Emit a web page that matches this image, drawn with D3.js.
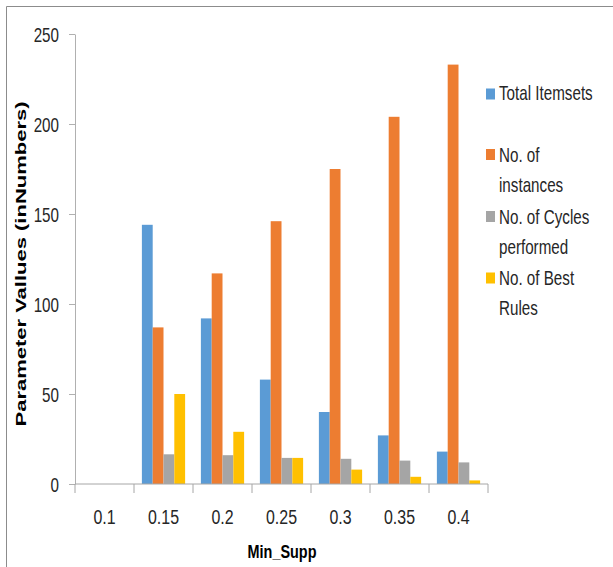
<!DOCTYPE html>
<html>
<head>
<meta charset="utf-8">
<script src="https://cdn.jsdelivr.net/npm/d3@7"></script>
<style>
  html, body { margin: 0; padding: 0; background: #fff; }
  svg { display: block; }
  .lbl { font-family: "Liberation Sans", Arial, sans-serif; fill: #262626; }
</style>
</head>
<body>
<svg id="chart" width="613" height="567"></svg>
<script>
// Minimum support thresholds on the x axis
const categories = ["0.1", "0.15", "0.2", "0.25", "0.3", "0.35", "0.4"];

// Series names and values per threshold
const seriesNames = ["Total Itemsets", "No. of instances", "No. of Cycles performed", "No. of Best Rules"];
const totalItemsets = [0, 144, 92, 58, 40, 27, 18];
const instances     = [0, 87, 117, 146, 175, 204, 233];
const cycles        = [0, 16.5, 16, 14.5, 14, 13, 12];
const bestRules     = [0, 50, 29, 14.5, 8, 4, 2];
const yTicks = [0, 50, 100, 150, 200, 250];

// Legend labels are wrapped over several lines
const legendLines = [["Total Itemsets"], ["No. of", "instances"], ["No. of Cycles", "performed"], ["No. of Best", "Rules"]];

const colors = ["#5B9BD5", "#ED7D31", "#A5A5A5", "#FFC000"];
const seriesValues = [totalItemsets, instances, cycles, bestRules];

// Horizontal squeeze that gives the regular sans a condensed look
const NARROW = 0.76;

const svg = d3.select("#chart");

// Outer frame (top and left edges)
svg.append("line").attr("x1", 6.5).attr("x2", 613).attr("y1", 6.5).attr("y2", 6.5)
  .attr("stroke", "#8c8c8c").attr("stroke-width", 1);
svg.append("line").attr("x1", 6.5).attr("x2", 6.5).attr("y1", 6.5).attr("y2", 567)
  .attr("stroke", "#8c8c8c").attr("stroke-width", 1);

const plot = { left: 75, right: 488, top: 34, bottom: 484 };

const x = d3.scaleBand().domain(categories).range([plot.left, plot.right]).paddingInner(0).paddingOuter(0);
const xSeries = d3.scaleBand().domain(d3.range(seriesNames.length))
  .range([0, x.bandwidth()]).paddingInner(0).paddingOuter(0.73);
const y = d3.scaleLinear().domain([0, 250]).range([plot.bottom, plot.top]);

// Bars
const groups = svg.append("g").selectAll("g")
  .data(categories)
  .join("g")
  .attr("transform", d => `translate(${x(d)},0)`);

groups.selectAll("rect")
  .data((c, i) => seriesValues.map((vals, s) => ({ s, v: vals[i] })))
  .join("rect")
  .attr("x", d => xSeries(d.s))
  .attr("width", xSeries.bandwidth())
  .attr("y", d => y(d.v))
  .attr("height", d => y(0) - y(d.v))
  .attr("fill", d => colors[d.s]);

// Y axis
const yAxis = svg.append("g")
  .attr("transform", `translate(${plot.left},0)`)
  .call(d3.axisLeft(y).tickValues(yTicks).tickSize(6).tickSizeOuter(0).tickPadding(9));
yAxis.select(".domain").attr("stroke", "#b0b0b0");
yAxis.selectAll(".tick line").attr("stroke", "#b0b0b0");
yAxis.selectAll(".tick text")
  .attr("class", "lbl")
  .attr("x", 0)
  .attr("transform", `translate(-16,0) scale(${NARROW},1)`)
  .style("font-size", "20px")
  .attr("dy", "0.36em");

// X axis: line with ticks at category boundaries
const xAxisG = svg.append("g");
xAxisG.append("line")
  .attr("x1", plot.left).attr("x2", plot.right)
  .attr("y1", plot.bottom).attr("y2", plot.bottom)
  .attr("stroke", "#a6a6a6");
const boundaries = categories.map(c => x(c)).concat([x(categories[categories.length - 1]) + x.bandwidth()]);
xAxisG.selectAll("line.bound")
  .data(boundaries)
  .join("line")
  .attr("class", "bound")
  .attr("x1", d => d).attr("x2", d => d)
  .attr("y1", plot.bottom).attr("y2", plot.bottom + 9)
  .attr("stroke", "#a6a6a6");
xAxisG.selectAll("text")
  .data(categories)
  .join("text")
  .attr("class", "lbl")
  .attr("transform", d => `translate(${x(d) + x.bandwidth() / 2},524) scale(${NARROW},1)`)
  .attr("text-anchor", "middle")
  .style("font-size", "21px")
  .text(d => d);

// Axis titles
svg.append("text")
  .attr("transform", `translate(282,558) scale(${NARROW},1)`)
  .attr("text-anchor", "middle")
  .style("font-family", "'Liberation Sans', Arial, sans-serif")
  .style("font-weight", "bold")
  .style("font-size", "19px")
  .attr("fill", "#000")
  .text("Min_Supp");

svg.append("text")
  .attr("transform", "translate(26,264) rotate(-90)")
  .attr("text-anchor", "middle")
  .style("font-family", "'Liberation Sans', Arial, sans-serif")
  .style("font-weight", "bold")
  .style("font-size", "15px")
  .attr("fill", "#000")
  .attr("textLength", 325)
  .attr("lengthAdjust", "spacingAndGlyphs")
  .text("Parameter Vallues (inNumbers)");

// Legend
const legendSquareY = [94, 154.5, 216.5, 278];
const legendBaselines = [[100], [162, 192], [224, 254], [285, 315]];
const legend = svg.append("g");
seriesNames.forEach((name, i) => {
  legend.append("rect")
    .attr("x", 486).attr("y", legendSquareY[i] - 5.5)
    .attr("width", 9).attr("height", 11)
    .attr("fill", colors[i]);
  legendLines[i].forEach((line, j) => {
    legend.append("text")
      .attr("class", "lbl")
      .attr("transform", `translate(499,${legendBaselines[i][j]}) scale(${NARROW},1)`)
      .style("font-size", "20px")
      .text(line);
  });
});
</script>
</body>
</html>
